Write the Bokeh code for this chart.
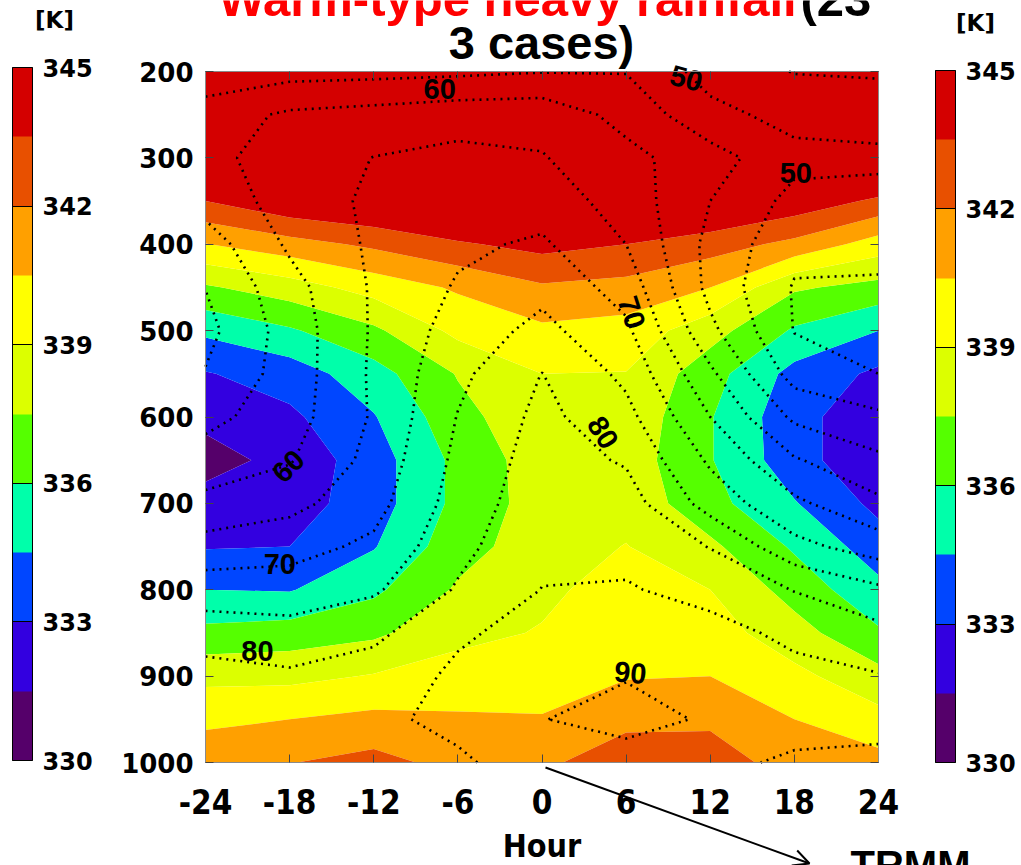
import numpy as np
from bokeh.plotting import figure
from bokeh.models import (Range1d, FixedTicker, LinearAxis, ColorBar,
                          LinearColorMapper, Label, Arrow, OpenHead)
from bokeh.core.properties import value
from bokeh.embed import file_html
from bokeh.resources import INLINE

# ---------------- data ----------------
hours = [-24, -18, -12, -6, 0, 6, 12, 18, 24]
pressure = [200, 250, 300, 350, 400, 450, 500, 550, 600, 650, 700, 750, 800, 850, 900, 950, 1000]
x_tick_labels = ["-24", "-18", "-12", "-6", "0", "6", "12", "18", "24"]
y_ticks = [200, 300, 400, 500, 600, 700, 800, 900, 1000]
cbar_ticks = [330, 333, 336, 339, 342, 345]

# equivalent potential temperature [K], one list per pressure level (hours -24..24)
THETA_E_200 = [349.0, 349.0, 349.5, 349.5, 349.5, 349.5, 349.4, 349.2, 349.0]
THETA_E_250 = [348.0, 348.2, 348.6, 348.7, 348.8, 348.8, 348.6, 348.3, 347.8]
THETA_E_300 = [346.8, 347.2, 347.5, 347.7, 348.0, 348.0, 347.6, 347.0, 346.3]
THETA_E_350 = [343.5, 344.8, 345.3, 346.0, 346.5, 346.3, 345.5, 344.5, 343.2]
THETA_E_400 = [340.45, 341.4, 342.3, 343.3, 344.0, 343.5, 342.7, 341.6, 339.8]
THETA_E_450 = [337.3, 338.3, 339.6, 340.7, 341.8, 341.5, 340.5, 337.7, 337.0]
THETA_E_500 = [334.8, 335.8, 337.2, 339.4, 340.2, 339.9, 338.1, 335.8, 334.5]
THETA_E_550 = [332.9, 333.7, 335.4, 337.6, 339.0, 338.95, 336.6, 334.0, 332.7]
THETA_E_600 = [331.9, 332.7, 334.4, 337.0, 338.6, 338.6, 336.1, 333.5, 332.0]
THETA_E_650 = [330.9, 332.0, 333.8, 336.4, 338.3, 338.3, 336.1, 333.6, 331.8]
THETA_E_700 = [332.1, 332.3, 333.8, 336.4, 338.2, 338.5, 336.5, 334.6, 332.6]
THETA_E_750 = [332.9, 333.0, 334.4, 336.9, 338.3, 339.05, 337.8, 335.8, 333.7]
THETA_E_800 = [334.5, 334.4, 335.7, 337.7, 338.7, 339.6, 339.0, 336.9, 334.9]
THETA_E_850 = [336.4, 336.7, 337.2, 338.6, 339.1, 340.0, 339.7, 338.1, 336.2]
THETA_E_900 = [338.6, 338.6, 339.1, 339.6, 339.8, 340.4, 340.5, 339.4, 338.0]
THETA_E_950 = [340.2, 340.5, 340.9, 340.7, 340.6, 341.6, 341.7, 340.5, 339.5]
THETA_E_1000 = [341.4, 341.95, 342.5, 341.5, 341.7, 342.9, 342.8, 341.3, 341.0]

# relative humidity [%], one list per pressure level (hours -24..24)
RH_200 = [51.5, 53.2, 53.5, 54.0, 54.8, 54.8, 48.0, 44.8, 44.5]
RH_250 = [57.5, 60.8, 61.8, 63.0, 63.3, 58.3, 51.5, 48.3, 47.5]
RH_300 = [58.5, 62.5, 65.1, 66.3, 65.3, 61.5, 57.0, 51.5, 51.2]
RH_350 = [57.0, 62.0, 66.0, 67.8, 67.8, 62.8, 55.0, 48.5, 48.0]
RH_400 = [52.5, 60.8, 65.8, 69.1, 70.7, 65.0, 53.5, 46.5, 46.4]
RH_450 = [50.1, 58.2, 65.6, 70.5, 73.6, 68.0, 53.5, 44.6, 44.4]
RH_500 = [48.5, 57.2, 65.6, 72.2, 76.4, 71.0, 56.2, 44.8, 43.5]
RH_550 = [50.3, 57.2, 65.8, 73.8, 80.1, 73.8, 61.0, 48.0, 45.0]
RH_600 = [53.5, 57.8, 65.6, 75.2, 81.3, 76.6, 65.0, 54.0, 51.0]
RH_650 = [57.3, 59.6, 66.6, 76.2, 82.2, 79.5, 69.2, 60.5, 56.0]
RH_700 = [61.2, 63.5, 68.2, 77.2, 83.0, 82.2, 73.0, 66.0, 61.0]
RH_750 = [67.0, 68.2, 71.0, 78.6, 83.9, 84.0, 79.8, 71.5, 67.5]
RH_800 = [72.5, 72.3, 74.3, 80.5, 85.1, 85.3, 83.8, 79.8, 76.0]
RH_850 = [77.6, 76.8, 78.8, 84.4, 86.5, 87.0, 86.2, 84.2, 81.5]
RH_900 = [82.0, 80.8, 82.5, 85.8, 88.0, 89.8, 88.0, 86.0, 85.3]
RH_950 = [83.5, 83.0, 84.2, 86.0, 89.9, 91.2, 89.6, 86.0, 85.8]
RH_1000 = [84.0, 84.0, 84.3, 84.4, 87.0, 88.5, 85.6, 84.6, 84.4]

rh_label_text = ["60", "50", "50", "70", "80", "60", "70", "80", "90"]

theta_e = np.array([THETA_E_200, THETA_E_250, THETA_E_300, THETA_E_350, THETA_E_400,
                    THETA_E_450, THETA_E_500, THETA_E_550, THETA_E_600, THETA_E_650,
                    THETA_E_700, THETA_E_750, THETA_E_800, THETA_E_850, THETA_E_900,
                    THETA_E_950, THETA_E_1000])
rh = np.array([RH_200, RH_250, RH_300, RH_350, RH_400, RH_450, RH_500, RH_550, RH_600,
               RH_650, RH_700, RH_750, RH_800, RH_850, RH_900, RH_950, RH_1000])

# ---------------- layout geometry (pixels) ----------------
W, H = 1021, 865
FX0, FX1, FY0, FY1 = 205, 878, 71, 762          # plotting area of the data
sx = (FX1 - FX0) / 48.0                          # px per hour
sy = (FY1 - FY0) / 800.0                         # px per hPa
def hx(px):   # canvas pixel x -> hour
    return -24 + (px - FX0) / sx
def py(pix):  # canvas pixel y -> hPa
    return 200 + (pix - FY0) / sy

palette = ["#55006a", "#3300e0", "#0046ff", "#00ffaa", "#55ff00",
           "#dcff00", "#ffff00", "#ffa000", "#e85000", "#d40000"]
fill_levels = [300, 331.5, 333, 334.5, 336, 337.5, 339, 340.5, 342, 343.5, 400]
rh_levels = [40, 45, 50, 55, 60, 65, 70, 75, 80, 85, 90, 95]

WIDE = "DejaVu Sans"
STD = "Liberation Sans"
NARROW = "Liberation Sans Narrow, DejaVu Sans Condensed, Liberation Sans"

p = figure(width=W, height=H,
           x_range=Range1d(hx(0), hx(W)), y_range=Range1d(py(H), py(0)),
           x_axis_type=None, y_axis_type=None, output_backend="svg",
           toolbar_location=None, min_border=0)
p.grid.visible = False
p.outline_line_color = None
p.background_fill_color = "white"
p.border_fill_color = "white"

p.contour(hours, pressure, theta_e, fill_levels, fill_color=palette, line_color=None)
p.contour(hours, pressure, rh, rh_levels, fill_color=None, line_color="black",
          line_dash="2 5", line_width=2.6)

lab_x = [-7.3, 10.3, 18.1, 6.4, 4.35, -18.1, -18.7, -20.3, 6.3]
lab_y = [220, 208, 317, 479, 618, 657, 770, 871, 896]
lab_a = [0, -15, 0, -72, -58, 45, 0, 0, -5]
p.text(x=lab_x, y=lab_y, text=rh_label_text, angle=lab_a, angle_units="deg",
       text_align="center", text_baseline="middle", text_font_size="29px",
       text_font_style="bold", text_font=value(STD), text_color="black")

# ---------------- axes (fixed at the edges of the data area) ----------------
def style(ax):
    ax.major_tick_in = 8
    ax.major_tick_out = 0
    ax.minor_tick_line_color = None
    ax.axis_line_color = "#8a8a8a"
    ax.axis_line_width = 1
    ax.major_tick_line_color = "#444444"
    return ax

xb = style(LinearAxis(fixed_location=1000, bounds=(-24, 24), ticker=FixedTicker(ticks=hours)))
xb.major_label_overrides = {h: s for h, s in zip(hours, x_tick_labels)}
xb.major_label_text_font = NARROW
xb.major_label_text_font_style = "bold"
xb.major_label_text_font_size = "33px"
xb.major_label_text_color = "black"
xb.major_label_standoff = 26
xb.axis_label = "Hour"
xb.axis_label_text_font = NARROW
xb.axis_label_text_font_style = "bold"
xb.axis_label_text_font_size = "32px"
xb.axis_label_text_color = "black"
xb.axis_label_standoff = 10
p.add_layout(xb, "below")

yl = style(LinearAxis(fixed_location=-24, bounds=(200, 1000), ticker=FixedTicker(ticks=y_ticks)))
yl.major_label_text_font = WIDE
yl.major_label_text_font_style = "bold"
yl.major_label_text_font_size = "26px"
yl.major_label_text_color = "black"
yl.major_label_standoff = 12
p.add_layout(yl, "left")

xt = style(LinearAxis(fixed_location=200, bounds=(-24, 24), ticker=FixedTicker(ticks=hours)))
xt.major_label_text_color = None
p.add_layout(xt, "above")
yr = style(LinearAxis(fixed_location=24, bounds=(200, 1000), ticker=FixedTicker(ticks=y_ticks)))
yr.major_label_text_color = None
p.add_layout(yr, "right")

# ---------------- colour bars ----------------
mapper = LinearColorMapper(palette=palette, low=330, high=345)
def make_cbar(left_px, top_px, bottom_px):
    return ColorBar(color_mapper=mapper, ticker=FixedTicker(ticks=cbar_ticks),
                    width=20, height=bottom_px - top_px, location=(left_px, H - bottom_px),
                    padding=0, margin=0, label_standoff=10,
                    major_label_text_font=WIDE, major_label_text_font_style="bold",
                    major_label_text_font_size="24px", major_label_text_color="black",
                    major_tick_in=20, major_tick_out=0, major_tick_line_color="black",
                    minor_tick_line_color=None, bar_line_color="black",
                    border_line_color=None, background_fill_alpha=0)
p.add_layout(make_cbar(12, 67, 760), "center")
p.add_layout(make_cbar(935, 70, 762), "center")

# ---------------- texts around the plot (y = vertical middle of the text) ----------------
def label(text, px, pmid, size, font=STD, color="black", align="left", angle=0):
    p.add_layout(Label(x=hx(px), y=py(pmid), text=text, text_color=color,
                       text_font=font, text_font_style="bold", text_font_size=size,
                       text_align=align, text_baseline="middle", angle=angle,
                       angle_units="deg"))

label("Warm-type heavy rainfall", 218, -1.5, "49px", color="#ff0000")
label("(23", 800, -1.5, "49px")
label("3 cases)", 541, 41.5, "47px", align="center")
label("[K]", 54, 19, "23px", font=WIDE, align="center")
label("[K]", 975, 22, "23px", font=WIDE, align="center")
label("TRMM", 850, 864, "40px")

p.add_layout(Arrow(end=OpenHead(size=16, line_width=2), x_start=hx(545), y_start=py(767),
                   x_end=hx(809), y_end=py(863), line_width=2, line_color="black"))

open("out.html", "w").write(file_html(p, INLINE))
